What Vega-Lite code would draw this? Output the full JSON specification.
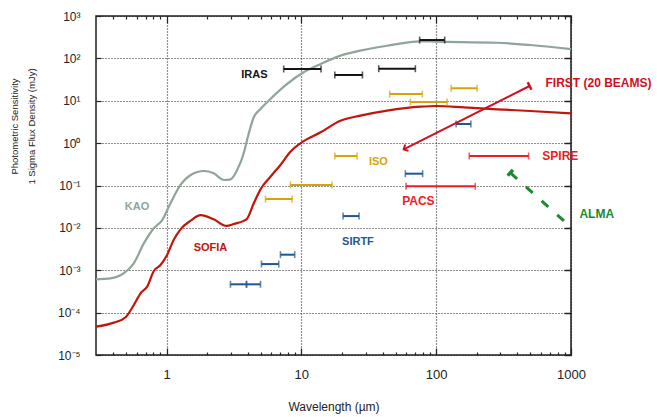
{
  "$schema": "https://vega.github.io/schema/vega-lite/v6.json",
  "width": 475,
  "height": 339,
  "autosize": {"type": "none"},
  "padding": {"left": 96, "top": 16, "right": 86, "bottom": 62},
  "background": "white",
  "config": {"view": {"stroke": "#1e1e1e", "strokeWidth": 1.5}, "font": "Liberation Sans"},
  "datasets": {
    "curves": [
      {"g": "KAO", "wl": 0.3, "s": 0.00061},
      {"g": "KAO", "wl": 0.385, "s": 0.00064},
      {"g": "KAO", "wl": 0.483, "s": 0.00085},
      {"g": "KAO", "wl": 0.572, "s": 0.00146},
      {"g": "KAO", "wl": 0.679, "s": 0.0043},
      {"g": "KAO", "wl": 0.805, "s": 0.0098},
      {"g": "KAO", "wl": 0.929, "s": 0.0153},
      {"g": "KAO", "wl": 1.07, "s": 0.038},
      {"g": "KAO", "wl": 1.27, "s": 0.103},
      {"g": "KAO", "wl": 1.51, "s": 0.177},
      {"g": "KAO", "wl": 1.89, "s": 0.22},
      {"g": "KAO", "wl": 2.24, "s": 0.194},
      {"g": "KAO", "wl": 2.66, "s": 0.135},
      {"g": "KAO", "wl": 2.98, "s": 0.14},
      {"g": "KAO", "wl": 3.34, "s": 0.232},
      {"g": "KAO", "wl": 3.74, "s": 0.575},
      {"g": "KAO", "wl": 3.96, "s": 1.19},
      {"g": "KAO", "wl": 4.44, "s": 4.07},
      {"g": "KAO", "wl": 4.98, "s": 6.4},
      {"g": "KAO", "wl": 5.9, "s": 11},
      {"g": "KAO", "wl": 7.85, "s": 24.9},
      {"g": "KAO", "wl": 10.4, "s": 46.9},
      {"g": "KAO", "wl": 13.9, "s": 73.7},
      {"g": "KAO", "wl": 19.5, "s": 116},
      {"g": "KAO", "wl": 27.4, "s": 152},
      {"g": "KAO", "wl": 43.3, "s": 199},
      {"g": "KAO", "wl": 76.4, "s": 253},
      {"g": "KAO", "wl": 100, "s": 248},
      {"g": "KAO", "wl": 283, "s": 234},
      {"g": "KAO", "wl": 499, "s": 207},
      {"g": "KAO", "wl": 1000, "s": 166},
      {"g": "SOFIA", "wl": 0.3, "s": 0.0000466},
      {"g": "SOFIA", "wl": 0.407, "s": 0.000058},
      {"g": "SOFIA", "wl": 0.497, "s": 0.000078},
      {"g": "SOFIA", "wl": 0.572, "s": 0.000151},
      {"g": "SOFIA", "wl": 0.642, "s": 0.000286},
      {"g": "SOFIA", "wl": 0.719, "s": 0.00041},
      {"g": "SOFIA", "wl": 0.805, "s": 0.00096},
      {"g": "SOFIA", "wl": 0.903, "s": 0.00133},
      {"g": "SOFIA", "wl": 1.01, "s": 0.00229},
      {"g": "SOFIA", "wl": 1.13, "s": 0.0052},
      {"g": "SOFIA", "wl": 1.27, "s": 0.00925},
      {"g": "SOFIA", "wl": 1.51, "s": 0.0148},
      {"g": "SOFIA", "wl": 1.79, "s": 0.0201},
      {"g": "SOFIA", "wl": 2.24, "s": 0.0159},
      {"g": "SOFIA", "wl": 2.79, "s": 0.0111},
      {"g": "SOFIA", "wl": 3.15, "s": 0.0123},
      {"g": "SOFIA", "wl": 3.92, "s": 0.0159},
      {"g": "SOFIA", "wl": 4.44, "s": 0.038},
      {"g": "SOFIA", "wl": 4.98, "s": 0.081},
      {"g": "SOFIA", "wl": 5.9, "s": 0.161},
      {"g": "SOFIA", "wl": 7.0, "s": 0.305},
      {"g": "SOFIA", "wl": 8.3, "s": 0.628},
      {"g": "SOFIA", "wl": 9.85, "s": 0.99},
      {"g": "SOFIA", "wl": 13.9, "s": 1.8},
      {"g": "SOFIA", "wl": 19.5, "s": 3.38},
      {"g": "SOFIA", "wl": 27.4, "s": 4.44},
      {"g": "SOFIA", "wl": 43.3, "s": 5.82},
      {"g": "SOFIA", "wl": 76.4, "s": 7.24},
      {"g": "SOFIA", "wl": 100, "s": 7.52},
      {"g": "SOFIA", "wl": 160, "s": 7.0},
      {"g": "SOFIA", "wl": 283, "s": 6.28},
      {"g": "SOFIA", "wl": 499, "s": 5.73},
      {"g": "SOFIA", "wl": 1000, "s": 5.06}
    ],
    "bars": [
      {"g": "IRAS", "lo": 7.4, "hi": 14.0, "s": 56.1},
      {"g": "IRAS", "lo": 17.7, "hi": 28.4, "s": 40.5},
      {"g": "IRAS", "lo": 37.5, "hi": 70.1, "s": 57.0},
      {"g": "IRAS", "lo": 75.4, "hi": 115.6, "s": 271},
      {"g": "ISO", "lo": 45.2, "hi": 79.0, "s": 14.4},
      {"g": "ISO", "lo": 129, "hi": 201, "s": 19.7},
      {"g": "ISO", "lo": 64.4, "hi": 120.5, "s": 9.34},
      {"g": "ISO", "lo": 17.7, "hi": 25.9, "s": 0.497},
      {"g": "ISO", "lo": 8.3, "hi": 16.9, "s": 0.103},
      {"g": "ISO", "lo": 5.42, "hi": 8.55, "s": 0.048},
      {"g": "SIRTF", "lo": 140.5, "hi": 181, "s": 2.83},
      {"g": "SIRTF", "lo": 59.1, "hi": 79.4, "s": 0.19},
      {"g": "SIRTF", "lo": 20.4, "hi": 26.8, "s": 0.019},
      {"g": "SIRTF", "lo": 7.0, "hi": 8.93, "s": 0.00233},
      {"g": "SIRTF", "lo": 5.06, "hi": 6.8, "s": 0.0014},
      {"g": "SIRTF", "lo": 2.98, "hi": 3.92, "s": 0.000466},
      {"g": "SIRTF", "lo": 3.92, "hi": 4.98, "s": 0.000466},
      {"g": "PACS", "lo": 59.8, "hi": 195, "s": 0.0958},
      {"g": "SPIRE", "lo": 176, "hi": 485, "s": 0.497}
    ],
    "arrows": [
      {"g": "FIRST", "wl": 57.4, "s": 0.715, "kind": "head"},
      {"g": "FIRST", "wl": 493, "s": 22.3, "kind": "cap"},
      {"g": "ALMA", "wl": 355, "s": 0.2, "kind": "cap"},
      {"g": "ALMA", "wl": 988, "s": 0.0107, "kind": "end"}
    ],
    "labels": [
      {"g": "IRAS", "t": "IRAS", "wl": 4.49, "s": 40.5},
      {"g": "KAO", "t": "KAO", "wl": 0.604, "s": 0.0311},
      {"g": "SOFIA", "t": "SOFIA", "wl": 2.12, "s": 0.00335},
      {"g": "ISO", "t": "ISO", "wl": 37.3, "s": 0.365},
      {"g": "SIRTF", "t": "SIRTF", "wl": 26.3, "s": 0.00472},
      {"g": "PACS", "t": "PACS", "wl": 73.8, "s": 0.043},
      {"g": "SPIRE", "t": "SPIRE", "wl": 833, "s": 0.497},
      {"g": "FIRST", "t": "FIRST (20 BEAMS)", "wl": 1600, "s": 26.7},
      {"g": "ALMA", "t": "ALMA", "wl": 1553, "s": 0.0212}
    ]
  },
  "resolve": {"axis": {"x": "independent", "y": "independent"}},
  "layer": [
    {
      "data": {"name": "curves"},
      "mark": {"type": "line", "interpolate": "monotone", "strokeWidth": 2.2},
      "encoding": {
        "x": {
          "field": "wl", "type": "quantitative",
          "scale": {"type": "log", "domain": [0.3, 1000], "nice": false, "zero": false},
          "axis": {
            "orient": "bottom",
            "values": [0.4,0.5,0.6,0.7,0.8,0.9,1,2,3,4,5,6,7,8,9,10,20,30,40,50,60,70,80,90,100,200,300,400,500,600,700,800,900,1000],
            "labelExpr": "abs(log(datum.value)/LN10 - round(log(datum.value)/LN10)) < 0.0001 ? format(datum.value, 'd') : ''",
            "grid": true, "gridDash": [1, 2], "gridColor": "#222", "gridWidth": 1.2,
            "gridOpacity": {"condition": {"test": "abs(log(datum.value)/LN10 - round(log(datum.value)/LN10)) < 0.0001", "value": 1}, "value": 0},
            "tickSize": {"condition": {"test": "abs(log(datum.value)/LN10 - round(log(datum.value)/LN10)) < 0.0001", "value": -7}, "value": -3},
            "tickColor": "#222", "tickWidth": 1.2,
            "domain": false, "labelFontSize": 13, "labelColor": "#222", "labelPadding": 20,
            "labelFlush": false, "labelOverlap": false,
            "title": "Wavelength (µm)", "titleFontSize": 12, "titleFontWeight": "normal", "titleColor": "#222", "titlePadding": 16
          }
        },
        "y": {
          "field": "s", "type": "quantitative",
          "scale": {"type": "log", "domain": [0.00001, 1000], "nice": false, "zero": false},
          "axis": {
            "orient": "left",
            "values": [0.00001,0.0001,0.001,0.01,0.1,1,10,100,1000],
            "labelExpr": "['10⁻⁵','10⁻⁴','10⁻³','10⁻²','10⁻¹','10⁰','10¹','10²','10³'][round(log(datum.value)/LN10)+5]",
            "grid": true, "gridDash": [1, 2], "gridColor": "#222", "gridWidth": 1.2,
            "tickSize": -5, "tickColor": "#222", "tickWidth": 1.2,
            "domain": false, "labelFontSize": 12, "labelColor": "#222", "labelPadding": 21,
            "labelFlush": false, "labelOverlap": false,
            "title": ["Photometric Sensitivity", "1 Sigma Flux Density (mJy)"],
            "titleFontSize": 9.5, "titleFontWeight": "normal", "titleColor": "#222",
            "titleLineHeight": 17, "titleAngle": 270, "titleAlign": "center", "titleBaseline": "alphabetic",
            "titleX": -79, "titleY": 110
          }
        },
        "color": {
          "field": "g", "type": "nominal", "legend": null,
          "scale": {
            "domain": ["KAO","SOFIA","IRAS","ISO","SIRTF","PACS","SPIRE","FIRST","ALMA"],
            "range": ["#8fa597","#c0160c","#141414","#d8a208","#1d5895","#ee1c24","#ee1c24","#d0101c","#1b8a30"]
          }
        },
        "detail": {"field": "g"}
      }
    },
    {
      "data": {"name": "bars"},
      "mark": {"type": "rule", "strokeWidth": 2},
      "encoding": {
        "x": {
          "field": "lo", "type": "quantitative",
          "axis": {
            "orient": "top",
            "values": [0.4,0.5,0.6,0.7,0.8,0.9,1,2,3,4,5,6,7,8,9,10,20,30,40,50,60,70,80,90,100,200,300,400,500,600,700,800,900,1000],
            "labels": false, "grid": false, "domain": false, "title": null,
            "tickSize": {"condition": {"test": "abs(log(datum.value)/LN10 - round(log(datum.value)/LN10)) < 0.0001", "value": -7}, "value": -3},
            "tickColor": "#222", "tickWidth": 1.2
          }
        },
        "x2": {"field": "hi"},
        "y": {
          "field": "s", "type": "quantitative",
          "axis": {
            "orient": "right",
            "values": [0.00001,0.0001,0.001,0.01,0.1,1,10,100,1000],
            "labels": false, "grid": false, "domain": false, "title": null,
            "tickSize": -7, "tickColor": "#222", "tickWidth": 1.5
          }
        },
        "color": {"field": "g", "type": "nominal", "legend": null}
      }
    },
    {
      "data": {"name": "bars"},
      "transform": [{"fold": ["lo", "hi"], "as": ["end", "wl"]}],
      "mark": {"type": "tick", "orient": "vertical", "size": 7, "thickness": 1.6},
      "encoding": {
        "x": {"field": "wl", "type": "quantitative", "axis": null},
        "y": {"field": "s", "type": "quantitative", "axis": null},
        "color": {"field": "g", "type": "nominal", "legend": null}
      }
    },
    {
      "data": {"name": "arrows"},
      "transform": [{"filter": "datum.g === 'FIRST'"}],
      "mark": {"type": "line", "strokeWidth": 2},
      "encoding": {
        "x": {"field": "wl", "type": "quantitative", "axis": null},
        "y": {"field": "s", "type": "quantitative", "axis": null},
        "color": {"field": "g", "type": "nominal", "legend": null}
      }
    },
    {
      "data": {"name": "arrows"},
      "transform": [{"filter": "datum.g === 'ALMA'"}],
      "mark": {"type": "line", "strokeWidth": 3, "strokeDash": [9, 12]},
      "encoding": {
        "x": {"field": "wl", "type": "quantitative", "axis": null},
        "y": {"field": "s", "type": "quantitative", "axis": null},
        "color": {"field": "g", "type": "nominal", "legend": null}
      }
    },
    {
      "data": {"name": "arrows"},
      "transform": [{"filter": "datum.g === 'FIRST' && datum.kind === 'cap'"}],
      "mark": {"type": "point", "shape": "M0,-1L0,1", "angle": 333.4, "size": 70, "strokeWidth": 2.5, "filled": false, "opacity": 1},
      "encoding": {
        "x": {"field": "wl", "type": "quantitative", "axis": null},
        "y": {"field": "s", "type": "quantitative", "axis": null},
        "color": {"field": "g", "type": "nominal", "legend": null}
      }
    },
    {
      "data": {"name": "arrows"},
      "transform": [{"filter": "datum.kind === 'head'"}],
      "mark": {"type": "point", "shape": "M1,-1L0,0L1,1", "angle": 333.4, "size": 50, "strokeWidth": 2, "filled": false, "opacity": 1},
      "encoding": {
        "x": {"field": "wl", "type": "quantitative", "axis": null},
        "y": {"field": "s", "type": "quantitative", "axis": null},
        "color": {"field": "g", "type": "nominal", "legend": null}
      }
    },
    {
      "data": {"name": "arrows"},
      "transform": [{"filter": "datum.g === 'ALMA' && datum.kind === 'cap'"}],
      "mark": {"type": "point", "shape": "M0,-1L0,1", "angle": 42, "size": 60, "strokeWidth": 3.5, "filled": false, "opacity": 1},
      "encoding": {
        "x": {"field": "wl", "type": "quantitative", "axis": null},
        "y": {"field": "s", "type": "quantitative", "axis": null},
        "color": {"field": "g", "type": "nominal", "legend": null}
      }
    },
    {
      "data": {"name": "labels"},
      "transform": [{"filter": "indexof(['IRAS','KAO','SOFIA','ISO','SIRTF'], datum.g) >= 0"}],
      "mark": {"type": "text", "align": "center", "baseline": "middle", "fontWeight": "bold", "fontSize": 11},
      "encoding": {
        "x": {"field": "wl", "type": "quantitative", "axis": null},
        "y": {"field": "s", "type": "quantitative", "axis": null},
        "text": {"field": "t"},
        "color": {"field": "g", "type": "nominal", "legend": null}
      }
    },
    {
      "data": {"name": "labels"},
      "transform": [{"filter": "indexof(['PACS','SPIRE','FIRST','ALMA'], datum.g) >= 0"}],
      "mark": {"type": "text", "align": "center", "baseline": "middle", "fontWeight": "bold", "fontSize": 12},
      "encoding": {
        "x": {"field": "wl", "type": "quantitative", "axis": null},
        "y": {"field": "s", "type": "quantitative", "axis": null},
        "text": {"field": "t"},
        "color": {"field": "g", "type": "nominal", "legend": null}
      }
    }
  ]
}
